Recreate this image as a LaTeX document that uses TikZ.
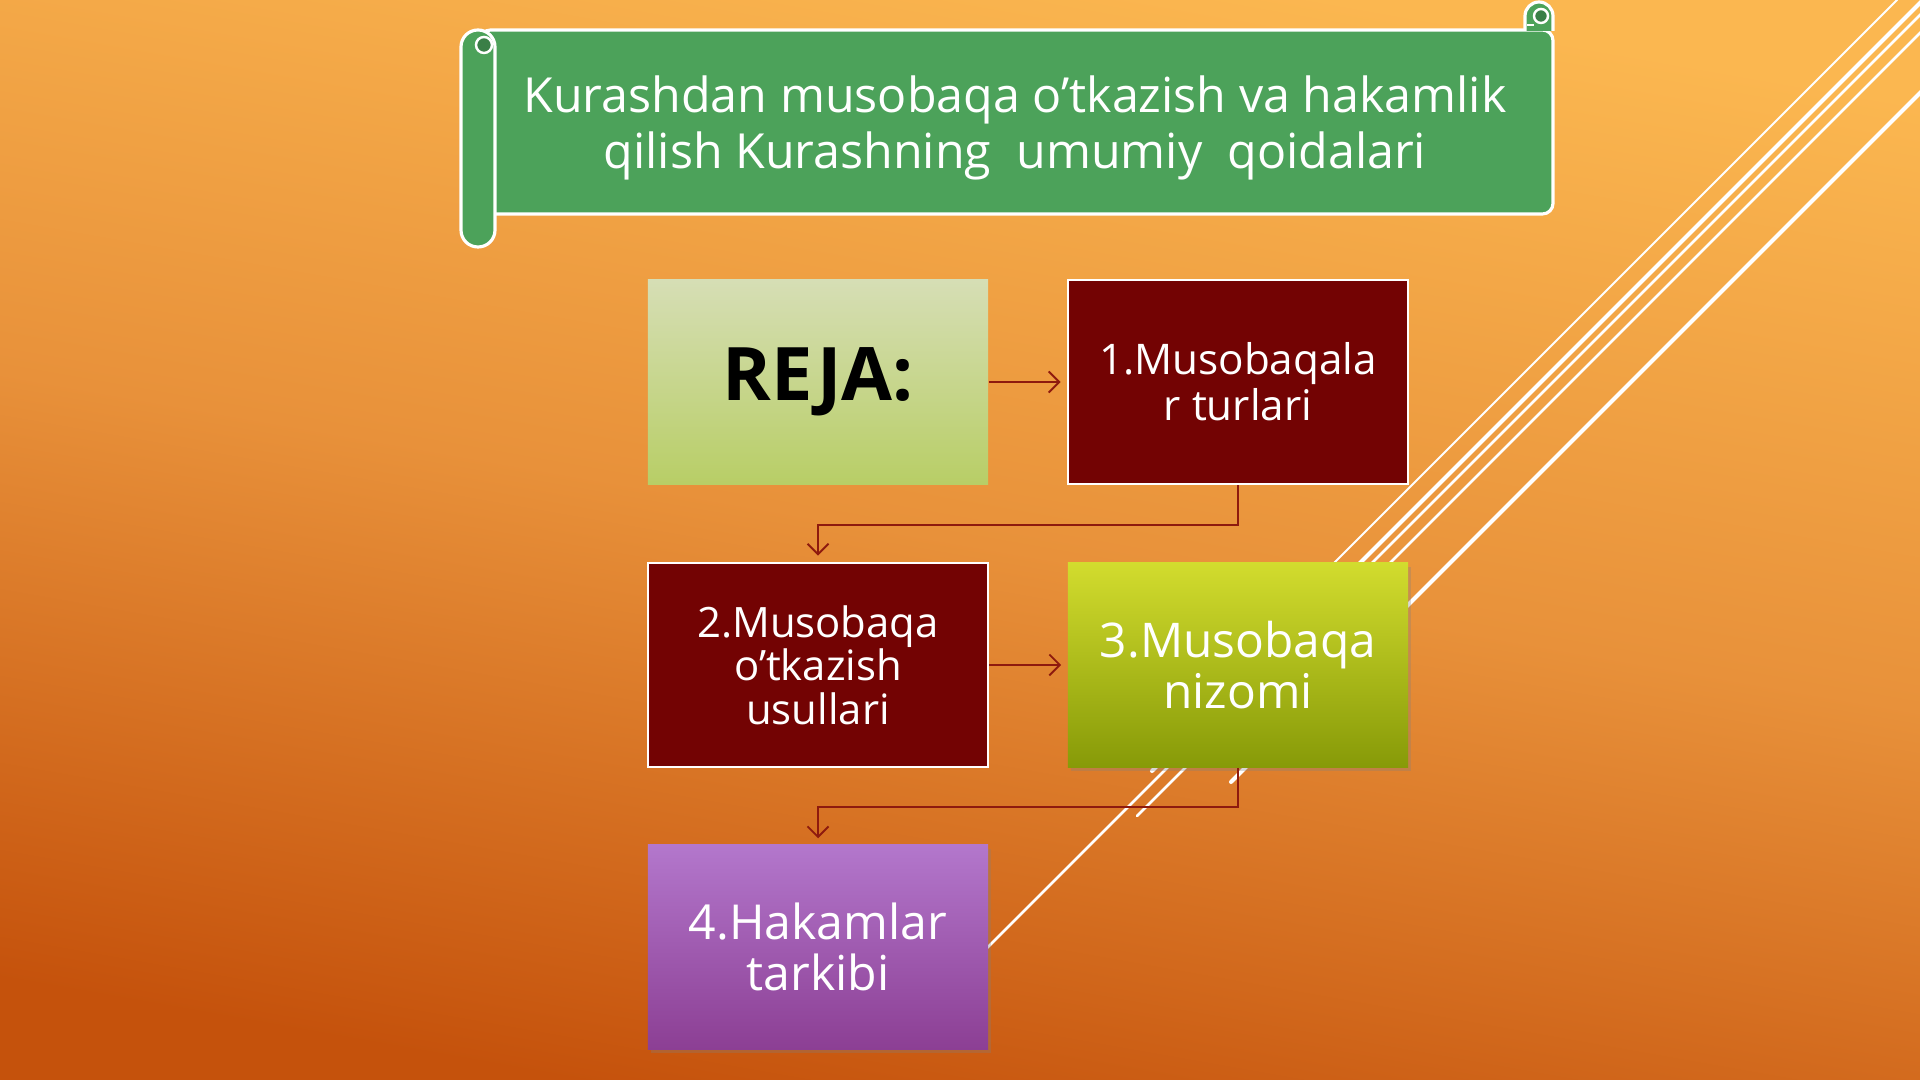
\documentclass[tikz,border=0pt]{standalone}
\usepackage{fontspec}
\setmainfont{Open Sans}
\usetikzlibrary{arrows.meta,shadows}

\definecolor{bgtop}{HTML}{FBB750}
\definecolor{bgmid}{HTML}{E8913A}
\definecolor{bgbot}{HTML}{C5520C}
\definecolor{scrollgreen}{HTML}{4CA25A}
\definecolor{curlgreen}{HTML}{3A7F47}
\definecolor{boxred}{HTML}{730303}
\definecolor{arrowred}{HTML}{8E1A0E}
\definecolor{rejatop}{HTML}{D6DEB5}
\definecolor{rejabot}{HTML}{B8CE66}
\definecolor{nizomtop}{HTML}{D2DC2E}
\definecolor{nizombot}{HTML}{879A08}
\definecolor{hakamtop}{HTML}{B377CC}
\definecolor{hakambot}{HTML}{8C3F94}

\begin{document}
\begin{tikzpicture}[%
        x=0.01cm, y=-0.01cm,
        scrollpart/.style={fill=scrollgreen, draw=white, line width=0.9pt},
        planbox/.style={shape=rectangle, minimum width=3.4cm, minimum height=2.04cm,
            inner sep=0pt, align=center, text=white},
        redbox/.style={planbox, fill=boxred, draw=white, line width=0.7pt},
        shadowbox/.style={planbox, drop shadow={shadow xshift=0.8pt, shadow yshift=-1.2pt, opacity=0.3}},
        conn/.style={draw=arrowred, line width=0.55pt, -{Straight Barb[length=3pt, width=6pt]}, shorten >=1.7pt},
        glint/.style={draw=white, line cap=round}
    ]
    \useasboundingbox (0,0) rectangle (1920,1080);
    \shade[top color=bgtop, bottom color=bgbot, middle color=bgmid, shading angle=-10]
        (0,0) rectangle (1920,1080);

    \foreach \sx/\ey/\wd in
        {1897/697/0.6pt, 1923/771/1.15pt, 1935/1040/0.75pt, 1953/816/0.75pt, 2013/782/1.15pt}
        \draw[glint, line width=\wd] (\sx,0) -- ({\sx-\ey},\ey);

    \filldraw[scrollpart, rounded corners=3pt] (480,30) rectangle (1553,214);
    \filldraw[scrollpart] (1525,31) -- (1525,16) arc[start angle=180, end angle=360, radius=14] -- (1553,31);
    \filldraw[fill=curlgreen, draw=white, line width=0.7pt] (1541,16) circle[radius=7];
    \draw[white, line width=0.7pt] (1527,25) -- (1534,25);
    \filldraw[scrollpart, rounded corners=4.8pt] (461,30) rectangle (495,247);
    \filldraw[fill=curlgreen, draw=white, line width=0.7pt] (484,45) circle[radius=8];

    \node [text=white, align=center, font=\fontsize{13.75pt}{15.9pt}\selectfont] (title) at (1015,128)
        {Kurashdan musobaqa o’tkazish va hakamlik\\qilish Kurashning\ \ umumiy\ \ qoidalari};

    \node [planbox, top color=rejatop, bottom color=rejabot, text=black,
        font=\fontsize{21pt}{25pt}\selectfont\bfseries] (reja) at (818,382) {REJA:};
    \node [redbox, font=\fontsize{12pt}{13pt}\selectfont] (tur) at (1238,382)
        {1.Musobaqala\\r turlari};
    \node [redbox, font=\fontsize{11.9pt}{12.4pt}\selectfont] (usul) at (818,665)
        {2.Musobaqa\\o’tkazish\\usullari};
    \node [shadowbox, top color=nizomtop, bottom color=nizombot,
        font=\fontsize{13.6pt}{14.4pt}\selectfont] (nizom) at (1238,665) {3.Musobaqa\\nizomi};
    \node [shadowbox, top color=hakamtop, bottom color=hakambot,
        font=\fontsize{13.7pt}{14.7pt}\selectfont] (hakam) at (818,947) {4.Hakamlar\\tarkibi};

    \draw[conn] (reja) -- (tur);
    \draw[conn] (tur.south) -- ++(0,39.5) -| (usul.north);
    \draw[conn] (usul) -- (nizom);
    \draw[conn] (nizom.south) -- ++(0,39.5) -| (hakam.north);
\end{tikzpicture}
\end{document}
